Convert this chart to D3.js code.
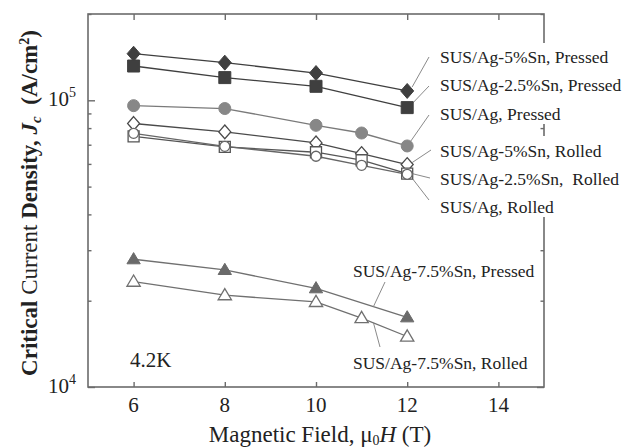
<!DOCTYPE html>
<html><head><meta charset="utf-8">
<script src="https://cdn.jsdelivr.net/npm/d3@7"></script>
<style>
body{margin:0;background:#fff;}
text{font-family:"Liberation Serif","Times New Roman",serif;white-space:pre;}
</style></head>
<body><svg id="c" width="622" height="447"></svg>
<script>
// ---- data ----
const fieldsP = [6, 8, 10, 12];
const fieldsR = [6, 8, 10, 11, 12];
const fieldsAgP = [6, 8, 10, 11, 12];
const sn5Pressed = [145400, 135300, 124500, 107800];
const sn25Pressed = [131700, 120000, 111900, 94300];
const agPressed = [95800, 93600, 81800, 76900, 69300];
const sn5Rolled = [83000, 77600, 71000, 65200, 59700];
const sn25Rolled = [74900, 68800, 65900, 61800, 55500];
const agRolled = [76700, 69100, 63800, 59300, 55200];
const sn75Pressed = [27900, 25600, 22100, 17500];
const sn75Rolled = [23300, 20900, 19800, 17400, 15000];
const xTicks = [6, 8, 10, 12, 14];
const yMajor = [1e4, 1e5];
const yMinor = [2e4,3e4,4e4,5e4,6e4,7e4,8e4,9e4,2e5];

const series = [
  {name:"SUS/Ag-5%Sn, Pressed", x:fieldsP, y:sn5Pressed, shape:"diamond", fill:"#3f3f3f", stroke:"#3f3f3f", line:"#3f3f3f", r:6.5},
  {name:"SUS/Ag-2.5%Sn, Pressed", x:fieldsP, y:sn25Pressed, shape:"square", fill:"#3f3f3f", stroke:"#3f3f3f", line:"#3f3f3f", r:6},
  {name:"SUS/Ag, Pressed", x:fieldsAgP, y:agPressed, shape:"circle", fill:"#878787", stroke:"#878787", line:"#7a7a7a", r:6},
  {name:"SUS/Ag-5%Sn, Rolled", x:fieldsR, y:sn5Rolled, shape:"diamond", fill:"#fff", stroke:"#4a4a4a", line:"#4a4a4a", r:6},
  {name:"SUS/Ag-2.5%Sn,  Rolled", x:fieldsR, y:sn25Rolled, shape:"square", fill:"#fff", stroke:"#555", line:"#555", r:5.5},
  {name:"SUS/Ag, Rolled", x:fieldsR, y:agRolled, shape:"circle", fill:"#fff", stroke:"#666", line:"#666", r:5},
  {name:"SUS/Ag-7.5%Sn, Pressed", x:fieldsP, y:sn75Pressed, shape:"triangle", fill:"#6a6a6a", stroke:"#6a6a6a", line:"#707070", r:7},
  {name:"SUS/Ag-7.5%Sn, Rolled", x:fieldsR, y:sn75Rolled, shape:"triangle", fill:"#fff", stroke:"#707070", line:"#707070", r:7}
];

const labels = [
  {i:0, x:440, y:63, from:[429,57], to:[3,5,-4]},
  {i:1, x:440, y:91, from:[429,86], to:[3,6,-5]},
  {i:2, x:440, y:120, from:[429,115], to:[4,3,-4]},
  {i:3, x:440, y:157, from:[431,150], to:[4,5,-2]},
  {i:4, x:440, y:185, from:[430,178], to:[4,5,0]},
  {i:5, x:440, y:213, from:[429,200], to:[4,5,4]},
  {i:6, x:353, y:277, from:[385,282], to:null, mid:[2,3,0.63]},
  {i:7, x:353, y:369, from:[380,347], to:null, mid:[3,4,0.26]}
];

const svg = d3.select("#c");
const L=88, R=544, T=14, B=387;
const x = d3.scaleLinear().domain([5,15]).range([L,R]);
const y = d3.scaleLog().domain([1e4,2e5]).range([B,T]);
const axisColor = "#6b6b6b";

svg.append("rect").attr("x",L).attr("y",T).attr("width",R-L).attr("height",B-T)
  .attr("fill","none").attr("stroke",axisColor).attr("stroke-width",1.6);

function styleAxis(g){ g.select(".domain").remove(); g.selectAll("line").attr("stroke",axisColor).attr("stroke-width",1.4); g.selectAll("text").remove(); }
svg.append("g").attr("transform",`translate(0,${B})`).call(d3.axisBottom(x).tickValues(xTicks).tickSize(-5)).call(styleAxis);
svg.append("g").attr("transform",`translate(0,${T})`).call(d3.axisTop(x).tickValues(xTicks).tickSize(-6)).call(styleAxis);
svg.append("g").attr("transform",`translate(${L},0)`).call(d3.axisLeft(y).tickValues(yMajor).tickSize(-7)).call(styleAxis);
svg.append("g").attr("transform",`translate(${L},0)`).call(d3.axisLeft(y).tickValues(yMinor).tickSize(-3.5)).call(styleAxis);
svg.append("g").attr("transform",`translate(${R},0)`).call(d3.axisRight(y).tickValues(yMajor).tickSize(-7)).call(styleAxis);
svg.append("g").attr("transform",`translate(${R},0)`).call(d3.axisRight(y).tickValues(yMinor).tickSize(-3.5)).call(styleAxis);

svg.append("g").selectAll("text").data(xTicks).join("text")
  .attr("x",d=>x(d)).attr("y",B+25).attr("text-anchor","middle")
  .attr("font-size",21).attr("fill","#222").text(d=>d);
const yl = svg.append("g").selectAll("text").data(yMajor).join("text")
  .attr("x",76).attr("y",d=>y(d)+6).attr("text-anchor","end").attr("font-size",21).attr("fill","#222");
yl.append("tspan").text("10");
yl.append("tspan").attr("dy",-9).attr("font-size",14).text(d=>Math.round(Math.log10(d)));

const xt = svg.append("text").attr("x",320).attr("y",442).attr("text-anchor","middle").attr("font-size",23).attr("fill","#222");
xt.append("tspan").text("Magnetic Field, μ");
xt.append("tspan").attr("font-size",14).attr("dy",3).text("0");
xt.append("tspan").attr("dy",-3).attr("font-style","italic").text("H");
xt.append("tspan").text(" (T)");

const yt = svg.append("text").attr("transform","translate(37,203) rotate(-90)").attr("text-anchor","middle").attr("font-size",23).attr("fill","#222");
yt.append("tspan").attr("font-weight","bold").text("Critical");
yt.append("tspan").text(" Current ");
yt.append("tspan").attr("font-weight","bold").text("Density, ");
yt.append("tspan").attr("font-weight","bold").attr("font-style","italic").text("J");
yt.append("tspan").attr("font-weight","bold").attr("font-style","italic").attr("font-size",15).attr("dy",4).text("c");
yt.append("tspan").attr("dy",-4).text("  ");
yt.append("tspan").attr("font-weight","bold").text("(A/cm");
yt.append("tspan").attr("font-weight","bold").attr("font-size",14).attr("dy",-8).text("2");
yt.append("tspan").attr("font-weight","bold").attr("dy",8).text(")");

svg.append("text").attr("x",130).attr("y",367).attr("font-size",21).attr("fill","#222").text("4.2K");

const line = d3.line().x(d=>x(d[0])).y(d=>y(d[1]));
series.forEach(s=>{
  const pts = s.x.map((v,k)=>[v,s.y[k]]);
  svg.append("path").attr("d",line(pts)).attr("fill","none").attr("stroke",s.line).attr("stroke-width",1.3);
});

const labelG = svg.append("g");
const bgG = labelG.append("g");
const txtG = labelG.append("g");
const leadG = svg.append("g");
labels.forEach(l=>{
  const s = series[l.i];
  txtG.append("text").attr("x",l.x).attr("y",l.y).attr("font-size",17.5).attr("fill","#222").text(s.name);
});
const groups = [[0,2,8,4],[3,5,9,4]];
const tnodes = txtG.selectAll("text").nodes();
groups.forEach(([a,b,pt,pb])=>{
  const b1 = tnodes[a].getBBox(), b2 = tnodes[b].getBBox();
  bgG.append("rect").attr("x",433).attr("y",b1.y-pt+4).attr("width",622-433).attr("height",(b2.y+b2.height)-(b1.y)+pt+pb-8).attr("fill","#fff");
});

function marker(shape,r){
  if(shape==="diamond") return `M0,${-r*1.15}L${r},0L0,${r*1.15}L${-r},0Z`;
  if(shape==="square") return `M${-r},${-r}H${r}V${r}H${-r}Z`;
  if(shape==="triangle") return `M0,${-r*0.95}L${r*0.95},${r*0.65}L${-r*0.95},${r*0.65}Z`;
  return d3.symbol(d3.symbolCircle, Math.PI*r*r)();
}
series.forEach(s=>{
  svg.append("g").selectAll("path").data(s.x.map((v,k)=>[v,s.y[k]])).join("path")
    .attr("transform",d=>`translate(${x(d[0])},${y(d[1])})`)
    .attr("d",marker(s.shape,s.r)).attr("fill",s.fill).attr("stroke",s.stroke)
    .attr("stroke-width",s.fill==="#fff"?1.3:1);
});

labels.forEach(l=>{
  const s = series[l.i];
  let tx, ty;
  if(l.to){
    const k=l.to[0];
    tx = x(s.x[k])+l.to[1]; ty = y(s.y[k])+l.to[2];
  } else {
    const [a,b,t]=l.mid;
    const x0=x(s.x[a]), x1=x(s.x[b]), y0=y(s.y[a]), y1=y(s.y[b]);
    tx = x0+(x1-x0)*t; ty = y0+(y1-y0)*t;
  }
  leadG.append("line").attr("x1",l.from[0]).attr("y1",l.from[1]).attr("x2",tx).attr("y2",ty)
    .attr("stroke","#8a8a8a").attr("stroke-width",1);
});
</script></body></html>
